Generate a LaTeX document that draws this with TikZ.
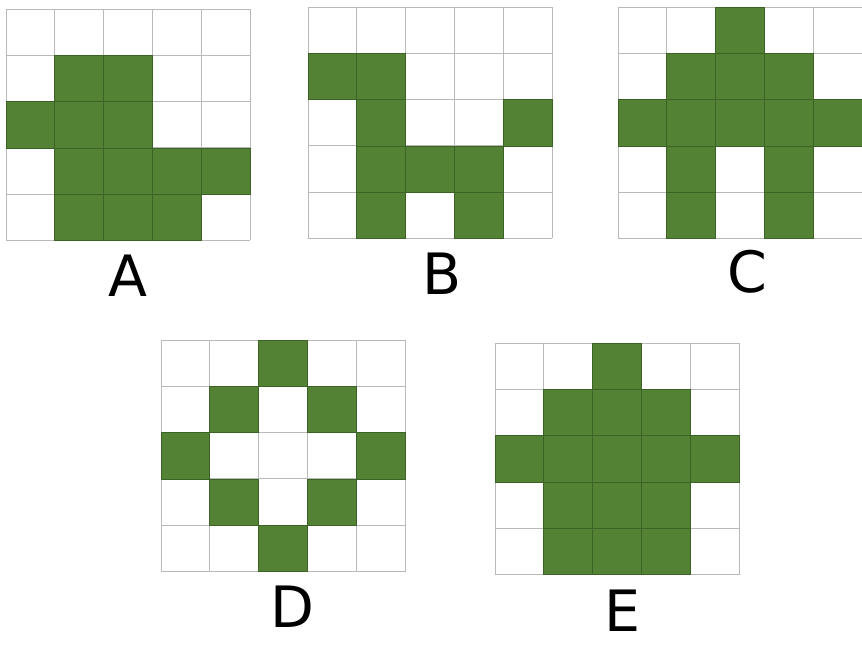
\documentclass[tikz,border=0pt]{standalone}
\usepackage{fontspec}
\setmainfont{DejaVu Sans}
\usetikzlibrary{math}
\definecolor{mygreen}{RGB}{84,130,53}
\definecolor{mydarkgreen}{RGB}{60,98,38}
\definecolor{mygrey}{RGB}{185,185,185}
\tikzset{
gridline/.style={draw=mygrey, line width=0.9pt},
cell/.style={fill=mygreen, draw=mydarkgreen, line width=0.7pt},
lbl/.style={font=\fontsize{57}{60}\selectfont, inner sep=0pt}
}

\begin{document}
\begin{tikzpicture}[x=1pt,y=-1pt]
\tikzmath{
\cellw=48.8;
\cellh=46.3;
}
\useasboundingbox (0,0) rectangle (862,655);

\coordinate (A0) at (6,9);
\coordinate (B0) at (308,7);
\coordinate (C0) at (618,7);
\coordinate (D0) at (161,340);
\coordinate (E0) at (495,343);

\foreach \p in {A0,B0,C0,D0,E0}{
\begin{scope}[shift={(\p)}]
\foreach \i in {0,...,5}{
\draw[gridline] (\i*\cellw,0) -- (\i*\cellw,5*\cellh);
\draw[gridline] (0,\i*\cellh) -- (5*\cellw,\i*\cellh);
}
\end{scope}
}

\begin{scope}[shift={(A0)}]
\foreach \c/\r in {1/1,2/1,0/2,1/2,2/2,1/3,2/3,3/3,4/3,1/4,2/4,3/4}
\draw[cell] (\c*\cellw,\r*\cellh) rectangle +(\cellw,\cellh);
\end{scope}

\begin{scope}[shift={(B0)}]
\foreach \c/\r in {0/1,1/1,1/2,4/2,1/3,2/3,3/3,1/4,3/4}
\draw[cell] (\c*\cellw,\r*\cellh) rectangle +(\cellw,\cellh);
\end{scope}

\begin{scope}[shift={(C0)}]
\foreach \c/\r in {2/0,1/1,2/1,3/1,0/2,1/2,2/2,3/2,4/2,1/3,3/3,1/4,3/4}
\draw[cell] (\c*\cellw,\r*\cellh) rectangle +(\cellw,\cellh);
\end{scope}

\begin{scope}[shift={(D0)}]
\foreach \c/\r in {2/0,1/1,3/1,0/2,4/2,1/3,3/3,2/4}
\draw[cell] (\c*\cellw,\r*\cellh) rectangle +(\cellw,\cellh);
\end{scope}

\begin{scope}[shift={(E0)}]
\foreach \c/\r in {2/0,1/1,2/1,3/1,0/2,1/2,2/2,3/2,4/2,1/3,2/3,3/3,1/4,2/4,3/4}
\draw[cell] (\c*\cellw,\r*\cellh) rectangle +(\cellw,\cellh);
\end{scope}

\node[lbl] (labA) at (128,276) {A};
\node[lbl] (labB) at (442,274) {B};
\node[lbl] (labC) at (747,272) {C};
\node[lbl] (labD) at (292,607) {D};
\node[lbl] (labE) at (622,611) {E};
\end{tikzpicture}
\end{document}
